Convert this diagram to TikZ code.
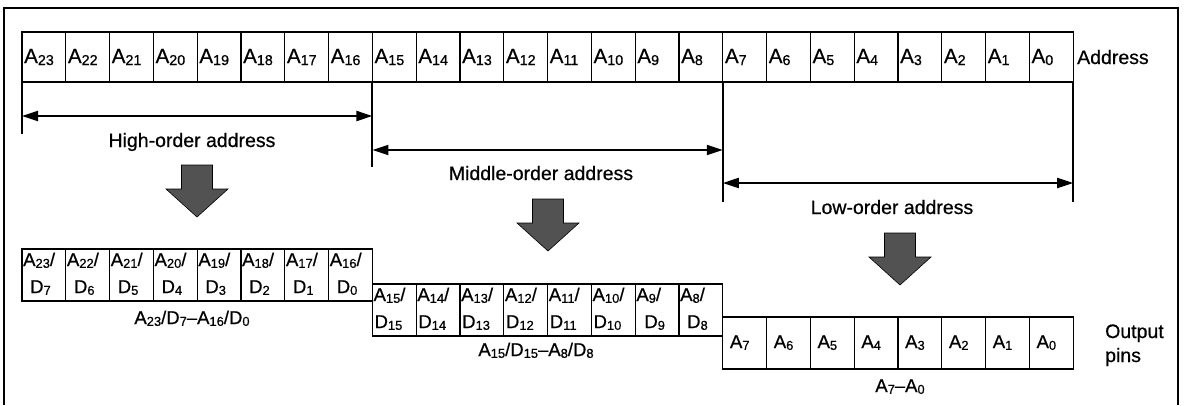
\documentclass[tikz,border=0pt]{standalone}
\usepackage{fontspec}
\setmainfont{Liberation Sans}[FakeBold=0.6]
\usetikzlibrary{arrows.meta}
\newcommand\ssub[1]{\raisebox{-0.1em}{\scalebox{0.7}{#1}}}
\begin{document}
\begin{tikzpicture}[x=1pt,y=-1pt,
  cell/.style={draw, line width=1.3pt, minimum width=43.8pt, inner sep=0pt, outer sep=0pt, anchor=north west},
  toprow/.style={cell, minimum height=50pt},
  lowrow/.style={cell, minimum height=52pt},
  bigtxt/.style={font=\fontsize{19.5}{22}\selectfont, inner sep=0pt},
  toptxt/.style={font=\fontsize{20.5}{22}\selectfont, inner sep=0pt, anchor=base west},
  celltxt/.style={font=\fontsize{18.5}{20}\selectfont, inner sep=0pt, anchor=base west},
  rowlbl/.style={font=\fontsize{18.5}{20}\selectfont, inner sep=0pt, anchor=base},
  dim/.style={line width=2pt, {Triangle[length=16pt,width=10pt]}-{Triangle[length=16pt,width=10pt]}},
  ext/.style={line width=2pt},
  blk/.style={fill=black!68, draw=black, line width=0.6pt},
  frame/.style={line width=2pt}
]
\useasboundingbox (0,0) rectangle (1184,405);
% frame
\draw[frame] (4,405) -- (4,8) -- (1178,8) -- (1178,405);
% address row
\foreach \b [count=\i from 0] in {23,22,...,0} {
  \node[toptxt] (tl\b) at ({24+\i*43.8},63) {A\ssub{\b}};
  \node[toprow] (t\b) at ({22+\i*43.8},32) {};
}
\node[bigtxt, anchor=base west] (addr) at (1077,64) {Address};
% extension lines
\draw[ext] (t23.south west) -- ++(0,52) coordinate (e1);
\draw[ext] (t16.south east) -- ++(0,85) coordinate (e2);
\draw[ext] (t8.south east) -- ++(0,120) coordinate (e3);
\draw[ext] (t0.south east) -- ++(0,120) coordinate (e4);
% dimension arrows
\path (t23.south west) ++(0,34) coordinate (hL);
\path (t16.south east) ++(0,34) coordinate (hR);
\path (t16.south east) ++(0,68) coordinate (mL);
\path (t8.south east) ++(0,68) coordinate (mR);
\path (t8.south east) ++(0,101) coordinate (lL);
\path (t0.south east) ++(0,101) coordinate (lR);
\draw[dim] (hL) -- (hR);
\draw[dim] (mL) -- (mR);
\draw[dim] (lL) -- (lR);
\node[bigtxt, anchor=base] (hlab) at (192,147) {High-order address};
\node[bigtxt, anchor=base] (mlab) at (541,180) {Middle-order address};
\node[bigtxt, anchor=base] (llab) at (892,214) {Low-order address};
% block arrows
\foreach \cx/\cy in {197/165, 548/199, 900/233} {
  \filldraw[blk] (\cx-15.5,\cy) -- (\cx+15.5,\cy) -- (\cx+15.5,\cy+24) -- (\cx+31,\cy+24)
    -- (\cx,\cy+52) -- (\cx-31,\cy+24) -- (\cx-15.5,\cy+24) -- cycle;
}
% output row: high-order
\foreach \b/\d [count=\i from 0] in {23/7,22/6,21/5,20/4,19/3,18/2,17/1,16/0} {
  \node[celltxt] (ha\b) at ({23+\i*43.8},266) {A\ssub{\b}/};
  \node[celltxt] (hd\b) at ({30+\i*43.8},293) {D\ssub{\d}};
  \node[lowrow] (h\b) at ({22+\i*43.8},249) {};
}
\node[rowlbl] (hrow) at (192,324) {A\ssub{23}/D\ssub{7}–A\ssub{16}/D\ssub{0}};
% output row: middle-order
\foreach \b/\dx [count=\i from 0] in {15/2,14/2,13/2,12/2,11/2,10/2,9/9,8/8} {
  \node[celltxt] (ma\b) at ({23+(\i+8)*43.8},301) {A\ssub{\b}/};
  \node[celltxt] (md\b) at ({22+\dx+(\i+8)*43.8},328) {D\ssub{\b}};
  \node[lowrow] (m\b) at ({22+(\i+8)*43.8},284) {};
}
\node[rowlbl] (mrow) at (536,356) {A\ssub{15}/D\ssub{15}–A\ssub{8}/D\ssub{8}};
% output row: low-order
\foreach \b [count=\i from 0] in {7,6,...,0} {
  \node[celltxt] (la\b) at ({29+(\i+16)*43.8},348) {A\ssub{\b}};
  \node[lowrow] (l\b) at ({22+(\i+16)*43.8},317) {};
}
\node[rowlbl] (lrow) at (900,392) {A\ssub{7}–A\ssub{0}};
\node[bigtxt, anchor=base west] (op1) at (1105,338) {Output};
\node[bigtxt, anchor=base west] (op2) at (1105,362) {pins};
\end{tikzpicture}
\end{document}
